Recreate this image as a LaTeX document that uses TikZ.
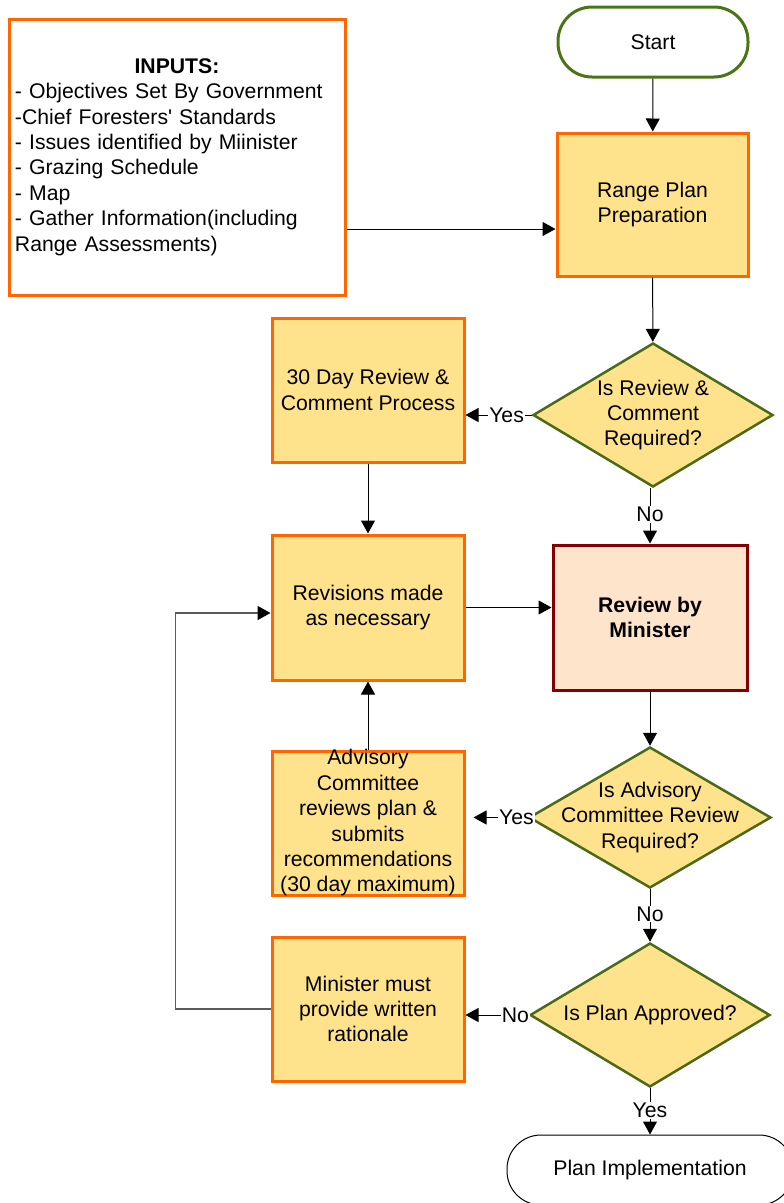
\documentclass[tikz,border=0pt]{standalone}
\usepackage{fontspec}
\setmainfont{Liberation Sans}
\usetikzlibrary{shapes.geometric,arrows.meta,calc}

\definecolor{boxorange}{HTML}{FF6600}
\definecolor{boxyellow}{HTML}{FFE38C}
\definecolor{termgreen}{HTML}{4B7417}
\definecolor{decgreen}{HTML}{4B6A17}
\definecolor{minred}{HTML}{840000}
\definecolor{minfill}{HTML}{FDE4CA}
\definecolor{loopgray}{HTML}{5A5A5A}

\begin{document}
\begin{tikzpicture}[x=1pt,y=-1pt,
  txt/.style={font=\fontsize{21.2}{25.4}\selectfont, align=center},
  process/.style={txt, draw=boxorange, line width=3pt, fill=boxyellow,
    minimum width=192pt, minimum height=144pt, inner sep=0pt},
  decision/.style={shape=diamond, draw=decgreen, line width=2.5pt, fill=boxyellow,
    minimum width=240pt, minimum height=144pt, inner sep=0pt},
  terminal/.style={txt, rectangle, rounded corners=34pt, minimum height=70pt, inner sep=0pt},
  lbl/.style={txt, fill=white, inner sep=1pt},
  arr/.style={-{Triangle[length=13pt,width=14pt]}, line width=1pt, black},
  loopline/.style={-{Triangle[length=13pt,width=14pt,black]}, line width=1.5pt, draw=loopgray}
]
\clip (0,0) rectangle (784,1203);

% right column
\node[terminal, draw=termgreen, line width=3pt, minimum width=190pt] (start) at (653,42) {Start};
\node[process, minimum width=191pt, minimum height=143pt] (range) at (652.5,204.5) {Range Plan\\Preparation};
\node[decision, label={[txt]center:{Is Review \&\\Comment\\Required?}}] (d1) at (653,415) {};
\node[txt, draw=minred, line width=3pt, fill=minfill, minimum width=194pt, minimum height=145pt,
  inner sep=0pt, font=\fontsize{21.2}{25.4}\selectfont\bfseries] (review) at (650,617.5) {Review by\\Minister};
\node[decision, minimum width=242pt, minimum height=141pt,
  label={[txt]center:{Is Advisory\\Committee Review\\Required?}}] (d2) at (650,817.5) {};
\node[decision, label={[txt]center:{Is Plan Approved?}}] (d3) at (650,1015) {};
\node[terminal, draw=black, line width=1pt, minimum width=286pt] (impl) at (650,1170) {Plan Implementation};

% inputs
\node[txt, align=left, text width=324pt, inner sep=6pt, draw=boxorange, line width=3pt, fill=white,
  minimum width=336pt, minimum height=276pt] (inputs) at (177,157)
  {\makebox[324pt]{\textbf{INPUTS:}}\\
   - Objectives Set By Government\\
   -Chief Foresters\textquotesingle{} Standards\\
   - Issues identified by Miinister\\
   - Grazing Schedule\\
   - Map\\
   - Gather Information(including\\
   Range Assessments)};

% left column
\node[process] (day30) at (368,390) {30 Day Review \&\\Comment Process};
\node[process, minimum height=145pt] (revis) at (368,607.5) {Revisions made\\as necessary};
\node[process, label={[txt]center:{Advisory\\Committee\\reviews plan \&\\submits\\recommendations\\(30 day maximum)}}] (adv) at (368,823) {};
\node[process] (minister) at (368,1009) {Minister must\\provide written\\rationale};

% connectors
\draw[arr] (start) -- (range);
\draw[arr] ([yshift=-72pt]inputs.east) -- ([yshift=-72pt]inputs.east -| range.west);
\draw[arr] (range) -- (d1);
\draw[arr] (d1.west) -- node[lbl, pos=0.38] {Yes} (d1.west -| day30.east);
\draw[arr] (d1.south -| review.north) -- node[lbl, pos=0.48] {No} (review.north);
\draw[arr] (day30) -- (revis);
\draw[arr] (revis.east) -- (revis.east -| review.west);
\draw[arr] (review) -- (d2);
\draw[arr] (d2.west) -- node[lbl, pos=0.21] {Yes} ([xshift=8pt]d2.west -| adv.east);
\draw[arr] (adv) -- (revis);
\draw[arr] (d2) -- node[lbl, pos=0.47] {No} (d3);
\draw[arr] (d3.west) -- node[lbl, pos=0.21] {No} (d3.west -| minister.east);
\draw[arr] (d3) -- node[lbl, pos=0.48] {Yes} (impl);
\draw[loopline] (minister.west) -- ++(-95,0) |- ([yshift=-5.5pt]revis.west);
\end{tikzpicture}
\end{document}
